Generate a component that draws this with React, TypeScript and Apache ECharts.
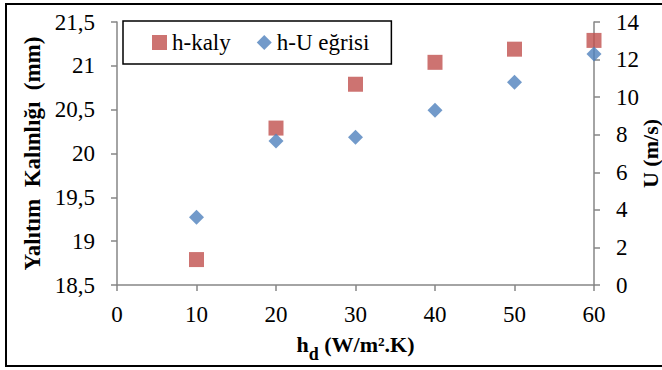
import React, { useEffect, useRef } from "react";
import * as echarts from "echarts";

const xValues = [10, 20, 30, 40, 50, 60];
const hKaly = [18.79, 20.29, 20.79, 21.04, 21.19, 21.29];
const hU = [3.6, 7.67, 7.87, 9.3, 10.79, 12.3];
const seriesNames = ["h-kaly", "h-U eğrisi"];
const leftTitle = "Yalıtım  Kalınlığı  (mm)";
const rightTitle = "U (m/s)";

const FONT = "'Liberation Serif', 'Times New Roman', serif";
const AXIS_COLOR = "#868686";

export default function App() {
  const ref = useRef<HTMLDivElement>(null);

  useEffect(() => {
    if (!ref.current) return;
    const chart = echarts.init(ref.current, undefined, { renderer: "svg" });
    const axisCommon = {
      axisLine: { show: true, lineStyle: { color: AXIS_COLOR, width: 1.5 } },
      axisTick: { show: true, length: 6, lineStyle: { color: AXIS_COLOR, width: 1.5 } },
      splitLine: { show: false },
      nameMoveOverlap: false,
    };
    const labelStyle = { fontFamily: FONT, fontSize: 23, color: "#000" };
    chart.setOption({
      animation: false,
      grid: {
        left: 117,
        right: 68,
        top: 22,
        bottom: 85,
        containLabel: false,
        outerBoundsMode: "none",
      },
      legend: {
        left: 123,
        top: 21,
        orient: "horizontal",
        padding: [10, 22, 10, 29],
        itemGap: 26,
        itemWidth: 15,
        itemHeight: 15,
        borderColor: "#000",
        borderWidth: 1.5,
        textStyle: { fontFamily: FONT, fontSize: 23, color: "#000" },
        data: [
          { name: seriesNames[0], icon: "rect" },
          { name: seriesNames[1], icon: "diamond" },
        ],
      },
      xAxis: {
        type: "value",
        min: 0,
        max: 60,
        interval: 10,
        ...axisCommon,
        axisLabel: { ...labelStyle, margin: 18 },
        name: "{a|h}{b|d}{a| (W/m².K)}",
        nameLocation: "middle",
        nameGap: 48,
        nameTextStyle: {
          rich: {
            a: {
              fontFamily: FONT,
              fontSize: 22,
              fontWeight: "bold",
              color: "#000",
              lineHeight: 30,
              verticalAlign: "top",
            },
            b: {
              fontFamily: FONT,
              fontSize: 18,
              fontWeight: "bold",
              color: "#000",
              lineHeight: 8,
              verticalAlign: "bottom",
            },
          },
        },
      },
      yAxis: [
        {
          type: "value",
          min: 18.5,
          max: 21.5,
          interval: 0.5,
          position: "left",
          ...axisCommon,
          axisLabel: {
            ...labelStyle,
            margin: 22,
            formatter: (v: number) => String(v).replace(".", ","),
          },
          name: leftTitle,
          nameLocation: "middle",
          nameGap: 73,
          nameTextStyle: { fontFamily: FONT, fontSize: 23, fontWeight: "bold", color: "#000" },
        },
        {
          type: "value",
          min: 0,
          max: 14,
          interval: 2,
          position: "right",
          ...axisCommon,
          axisLabel: { ...labelStyle, margin: 22 },
          name: rightTitle,
          nameLocation: "middle",
          nameGap: 45,
          nameTextStyle: { fontFamily: FONT, fontSize: 22, fontWeight: "bold", color: "#000" },
        },
      ],
      series: [
        {
          name: seriesNames[0],
          type: "scatter",
          yAxisIndex: 0,
          symbol: "rect",
          symbolSize: 15,
          itemStyle: { color: "#C0504D" },
          data: xValues.map((x, i) => [x, hKaly[i]]),
        },
        {
          name: seriesNames[1],
          type: "scatter",
          yAxisIndex: 1,
          symbol: "diamond",
          symbolSize: 15,
          itemStyle: { color: "#4F81BD" },
          data: xValues.map((x, i) => [x, hU[i]]),
        },
      ],
      graphic: [
        {
          type: "rect",
          shape: { x: 6, y: 4, width: 660, height: 362 },
          style: { fill: "none", stroke: "#000", lineWidth: 2 },
          silent: true,
        },
      ],
    });
    return () => chart.dispose();
  }, []);

  return (
    <div
      ref={ref}
      style={{ position: "fixed", left: 0, top: 0, width: 662, height: 370, background: "#fff" }}
    />
  );
}
